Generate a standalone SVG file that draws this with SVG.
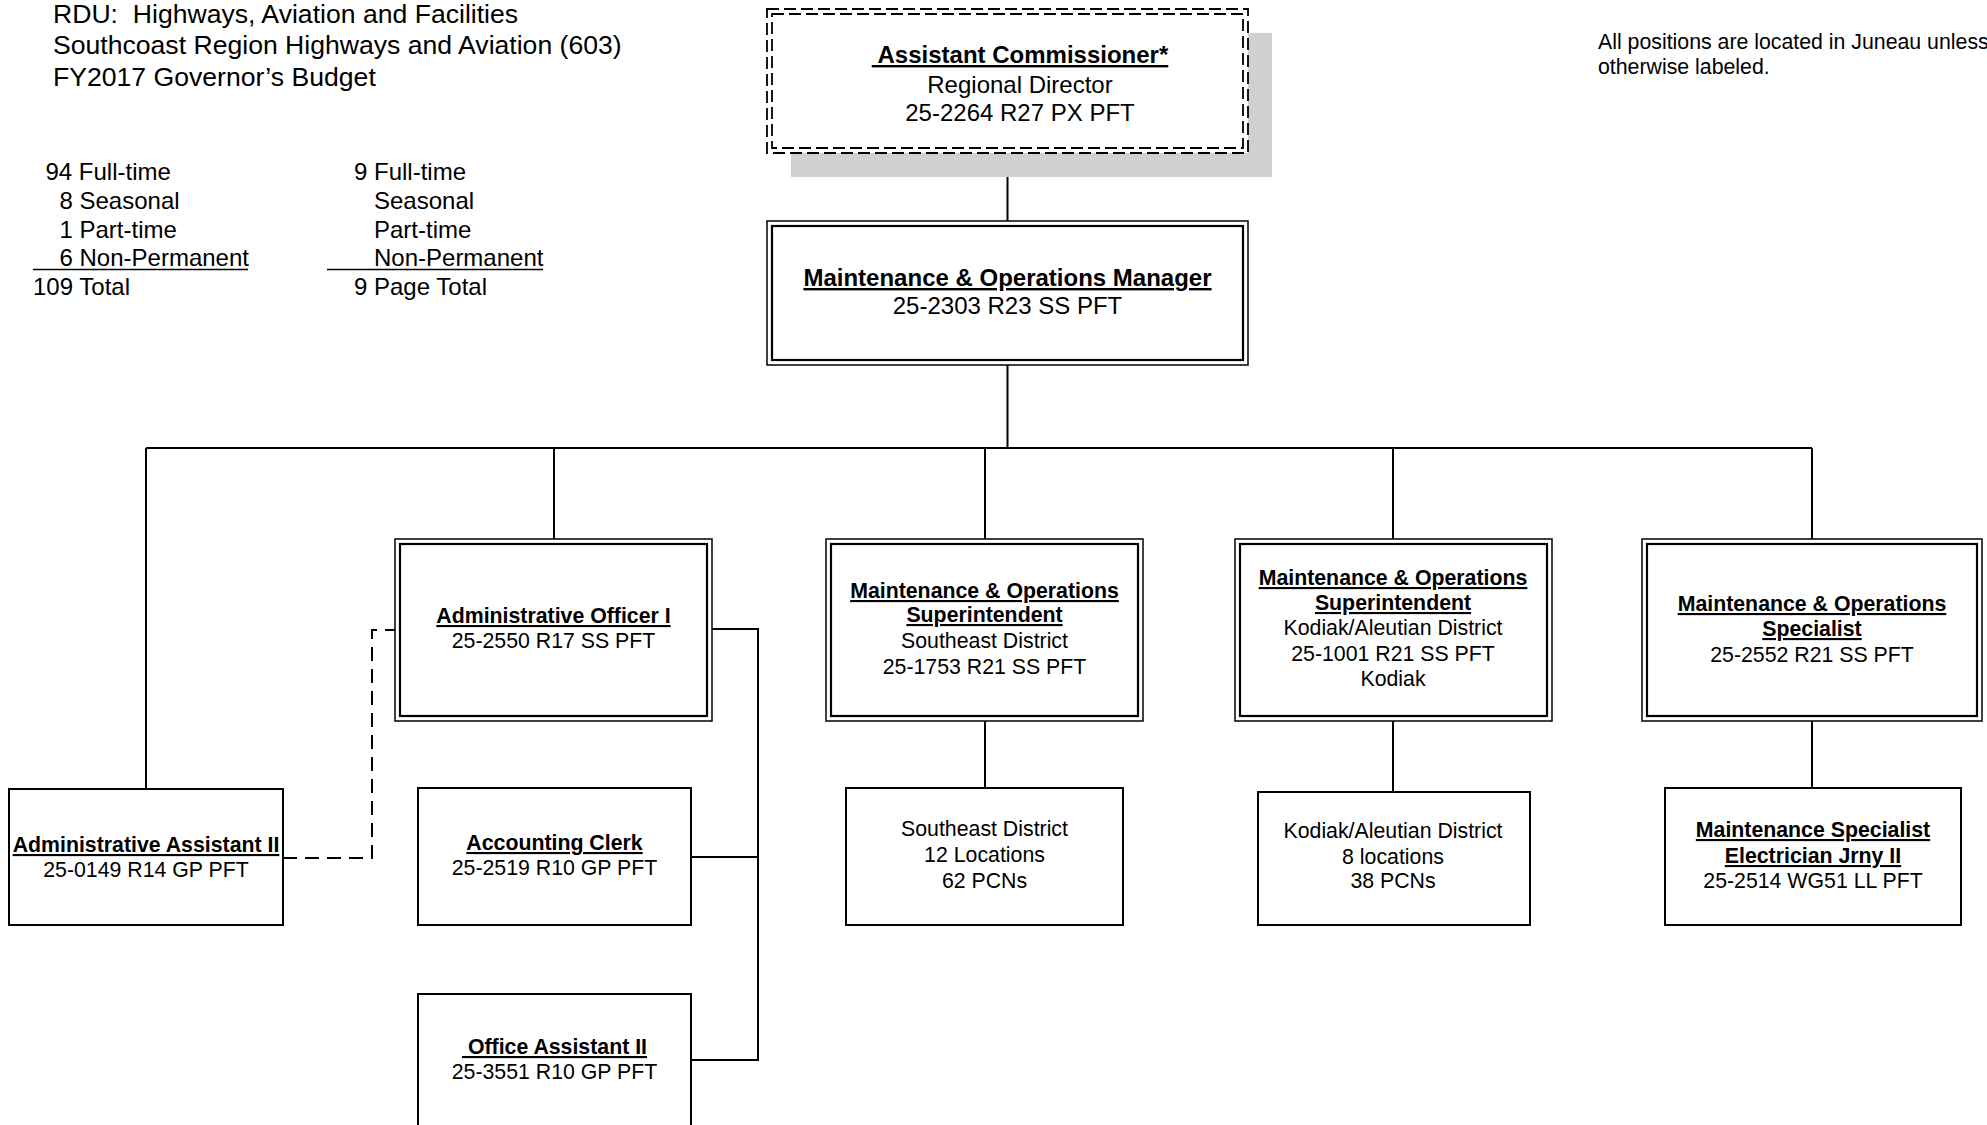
<svg xmlns="http://www.w3.org/2000/svg" width="1987" height="1125" viewBox="0 0 1987 1125">
<style>
text { font-family: "Liberation Sans", Arial, sans-serif; fill: #000; }
.t26 { font-size: 26.6px; }
.c24 { font-size: 24px; }
.n24 { font-size: 24px; text-anchor: middle; }
.n21 { font-size: 21.3px; text-anchor: middle; }
.note { font-size: 21.3px; }
.b { font-weight: bold; text-decoration: underline; }
.outer { fill: #fff; stroke: #000; stroke-width: 1.5; }
.inner { fill: none; stroke: #000; stroke-width: 2.2; }
.single { fill: #fff; stroke: #000; stroke-width: 2; }
.dbox { fill: #fff; stroke: #000; stroke-width: 1.8; stroke-dasharray: 12 5; }
.dboxi { fill: none; stroke: #000; stroke-width: 1.8; stroke-dasharray: 12 5; }
.shadow { fill: #d0d0d0; stroke: none; }
.conn { fill: none; stroke: #000; stroke-width: 2; }
.conn-dash { fill: none; stroke: #000; stroke-width: 2; stroke-dasharray: 14 8; }
.ul { stroke: #000; stroke-width: 1.6; }
</style>
<rect x="0" y="0" width="1987" height="1125" fill="#fff"/>

<g id="header">
  <text class="t26" x="53" y="23" xml:space="preserve">RDU:  Highways, Aviation and Facilities</text>
  <text class="t26" x="53" y="54">Southcoast Region Highways and Aviation (603)</text>
  <text class="t26" x="53" y="86">FY2017 Governor’s Budget</text>
</g>

<g id="counts">
  <text class="c24" x="45.5" y="180">94 Full-time</text>
  <text class="c24" x="59.5" y="209">8 Seasonal</text>
  <text class="c24" x="59.5" y="238">1 Part-time</text>
  <text class="c24" x="59.5" y="266">6 Non-Permanent</text>
  <line class="ul" x1="33" y1="269.5" x2="248" y2="269.5"/>
  <text class="c24" x="33" y="295">109 Total</text>
  <text class="c24" x="354" y="180">9 Full-time</text>
  <text class="c24" x="374" y="209">Seasonal</text>
  <text class="c24" x="374" y="238">Part-time</text>
  <text class="c24" x="374" y="266">Non-Permanent</text>
  <line class="ul" x1="327" y1="269.5" x2="543" y2="269.5"/>
  <text class="c24" x="354" y="295">9 Page Total</text>
</g>

<g id="note">
  <text class="note" x="1598" y="49">All positions are located in Juneau unless</text>
  <text class="note" x="1598" y="74">otherwise labeled.</text>
</g>

<g id="connectors">
  <path class="conn" d="M1007.5 153 V221"/>
  <path class="conn" d="M1007.5 365 V448"/>
  <path class="conn" d="M146 448 H1812"/>
  <path class="conn" d="M146 448 V789"/>
  <path class="conn" d="M554 448 V539"/>
  <path class="conn" d="M985 448 V539"/>
  <path class="conn" d="M1393 448 V539"/>
  <path class="conn" d="M1812 448 V539"/>
  <path class="conn" d="M985 721 V788"/>
  <path class="conn" d="M1393 721 V792"/>
  <path class="conn" d="M1812 721 V788"/>
  <path class="conn" d="M712 629 H758 V1060 H691"/>
  <path class="conn" d="M758 857 H691"/>
  <path class="conn-dash" d="M283 858 H372 V630 H395"/>
</g>

<g id="assistant-commissioner">
  <rect class="shadow" x="791" y="33" width="481" height="144"/>
  <rect class="dbox" x="767" y="9" width="481" height="144"/>
  <rect class="dboxi" x="772" y="14" width="471" height="134"/>
  <text class="n24 b" x="1020" y="63" xml:space="preserve"> Assistant Commissioner*</text>
  <text class="n24" x="1020" y="93">Regional Director</text>
  <text class="n24" x="1020" y="121">25-2264 R27 PX PFT</text>
</g>

<g id="mo-manager">
  <rect class="outer" x="767" y="221" width="481" height="144"/>
  <rect class="inner" x="772" y="226" width="471" height="134"/>
  <text class="n24 b" x="1007.5" y="286">Maintenance &amp; Operations Manager</text>
  <text class="n24" x="1007.5" y="314">25-2303 R23 SS PFT</text>
</g>

<g id="admin-officer">
  <rect class="outer" x="395" y="539" width="317" height="182"/>
  <rect class="inner" x="400" y="544" width="307" height="172"/>
  <text class="n21 b" x="553.5" y="623">Administrative Officer I</text>
  <text class="n21" x="553.5" y="648">25-2550 R17 SS PFT</text>
</g>

<g id="se-superintendent">
  <rect class="outer" x="826" y="539" width="317" height="182"/>
  <rect class="inner" x="831" y="544" width="307" height="172"/>
  <text class="n21 b" x="984.5" y="598">Maintenance &amp; Operations</text>
  <text class="n21 b" x="984.5" y="622">Superintendent</text>
  <text class="n21" x="984.5" y="648">Southeast District</text>
  <text class="n21" x="984.5" y="674">25-1753 R21 SS PFT</text>
</g>

<g id="kodiak-superintendent">
  <rect class="outer" x="1235" y="539" width="317" height="182"/>
  <rect class="inner" x="1240" y="544" width="307" height="172"/>
  <text class="n21 b" x="1393" y="585">Maintenance &amp; Operations</text>
  <text class="n21 b" x="1393" y="610">Superintendent</text>
  <text class="n21" x="1393" y="635">Kodiak/Aleutian District</text>
  <text class="n21" x="1393" y="661">25-1001 R21 SS PFT</text>
  <text class="n21" x="1393" y="686">Kodiak</text>
</g>

<g id="mo-specialist">
  <rect class="outer" x="1642" y="539" width="340" height="182"/>
  <rect class="inner" x="1647" y="544" width="330" height="172"/>
  <text class="n21 b" x="1812" y="611">Maintenance &amp; Operations</text>
  <text class="n21 b" x="1812" y="636">Specialist</text>
  <text class="n21" x="1812" y="662">25-2552 R21 SS PFT</text>
</g>

<g id="admin-assistant">
  <rect class="single" x="9" y="789" width="274" height="136"/>
  <text class="n21 b" x="146" y="852">Administrative Assistant II</text>
  <text class="n21" x="146" y="877">25-0149 R14 GP PFT</text>
</g>

<g id="accounting-clerk">
  <rect class="single" x="418" y="788" width="273" height="137"/>
  <text class="n21 b" x="554.5" y="850">Accounting Clerk</text>
  <text class="n21" x="554.5" y="875">25-2519 R10 GP PFT</text>
</g>

<g id="office-assistant">
  <rect class="single" x="418" y="994" width="273" height="150"/>
  <text class="n21 b" x="554.5" y="1054" xml:space="preserve"> Office Assistant II</text>
  <text class="n21" x="554.5" y="1079">25-3551 R10 GP PFT</text>
</g>

<g id="se-district">
  <rect class="single" x="846" y="788" width="277" height="137"/>
  <text class="n21" x="984.5" y="836">Southeast District</text>
  <text class="n21" x="984.5" y="862">12 Locations</text>
  <text class="n21" x="984.5" y="888">62 PCNs</text>
</g>

<g id="kodiak-district">
  <rect class="single" x="1258" y="792" width="272" height="133"/>
  <text class="n21" x="1393" y="838">Kodiak/Aleutian District</text>
  <text class="n21" x="1393" y="864">8 locations</text>
  <text class="n21" x="1393" y="888">38 PCNs</text>
</g>

<g id="electrician">
  <rect class="single" x="1665" y="788" width="296" height="137"/>
  <text class="n21 b" x="1813" y="837">Maintenance Specialist</text>
  <text class="n21 b" x="1813" y="863">Electrician Jrny II</text>
  <text class="n21" x="1813" y="888">25-2514 WG51 LL PFT</text>
</g>
</svg>
